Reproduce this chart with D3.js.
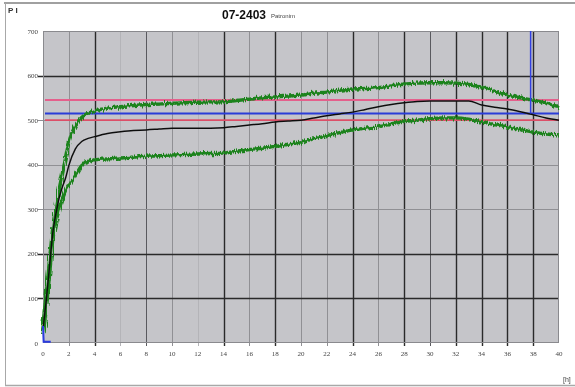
<!DOCTYPE html>
<html><head><meta charset="utf-8">
<script src="https://cdn.jsdelivr.net/npm/d3@7"></script>
<style>body{margin:0;background:#fff}svg{display:block}</style>
</head><body><svg id="c" width="575" height="387"></svg>
<script>
// Time axis (hours) and the three temperature traces
const hours = [0,0.25,0.5,0.75,1,1.25,1.5,1.75,2,2.5,3,3.5,4,5,6,7,8,9,10,11,12,13,14,15,16,17,18,19,20,21,22,23,24,25,26,27,28,29,30,31,32,33,34,35,36,37,38,39,40];
const upper = [40,110,185,255,305,345,380,415,450,488,506,516,521,527,530,533,535,536,538,539,540,541,541,544,547,550,552,554,556,560,563,567,570,571,573,577,581,583,584,584,583,580,574,565,556,550,545,538,530];
const mean  = [30,95,170,245,290,325,350,370,398,435,452,459,463,470,474,477,478,480,482,482,482,482,483,486,489,492,496,498,500,505,510,514,518,524,530,535,539,542,543,543,543,543,534,529,525,519,512,505,500];
const lower = [20,75,150,230,270,300,322,340,352,375,398,407,411,413,415,417,419,420,422,423,424,425,426,430,434,437,441,446,451,458,465,472,478,482,485,491,497,500,503,505,505,502,496,490,485,479,473,469,467];

// Start-up marker trace
const startHours = [0,0.05,0.6];
const startValues = [38,3,3];

// Reference levels and the end marker
const limitHigh = 545, target = 515, limitLow = 500;
const endMarkerHour = 37.8, endMarkerFrom = 700, endMarkerTo = 515;

const xTicks = d3.range(0, 41, 2);
const yTicks = [0,100,200,300,400,500,600,700];
const darkX = new Set([4,14,18,24,28,32,34,36,38]);
const midX = new Set([8,30]);
const faintX = new Set([6,12]);
const darkY = new Set([100,200,600]);

const svg = d3.select('#c');
const L = 43, R = 559, T = 31, B = 343;
const x = d3.scaleLinear().domain([0, 40]).range([L, R]);
const y = d3.scaleLinear().domain([0, 700]).range([B, T]);

const defs = svg.append('defs');
// slight softening of the whole drawing
defs.append('filter').attr('id','soft').append('feGaussianBlur').attr('stdDeviation',0.35);
// ragged look for the envelope traces
const f = defs.append('filter').attr('id','fz').attr('x','-5%').attr('y','-10%').attr('width','110%').attr('height','120%');
f.append('feTurbulence').attr('type','fractalNoise').attr('baseFrequency','0.9 0.06').attr('numOctaves',2).attr('seed',7).attr('result','n');
f.append('feDisplacementMap').attr('in','SourceGraphic').attr('in2','n').attr('scale',6).attr('xChannelSelector','R').attr('yChannelSelector','G');

const root = svg.append('g').attr('filter','url(#soft)');

// outer frame
root.append('line').attr('x1',4).attr('x2',575).attr('y1',3).attr('y2',3).attr('stroke','#a0a0a0').attr('stroke-width',2);
root.append('line').attr('x1',5.5).attr('x2',5.5).attr('y1',3).attr('y2',385).attr('stroke','#a8a8a8');
root.append('line').attr('x1',5).attr('x2',575).attr('y1',385.5).attr('y2',385.5).attr('stroke','#a8a8a8').attr('stroke-width',1.5);

// header
root.append('text').attr('x',8).attr('y',13).attr('font-family','Liberation Sans, Arial').attr('font-size',8).attr('font-weight','bold').attr('fill','#333').text('P I');
root.append('text').attr('x',222).attr('y',19).attr('font-family','Liberation Sans Narrow, Liberation Sans, Arial').attr('font-size',12).attr('font-weight','bold').attr('fill','#111').text('07-2403');
root.append('text').attr('x',271).attr('y',18).attr('font-family','Liberation Sans, Arial').attr('font-size',6).attr('fill','#444').text('Patronim');
root.append('text').attr('x',563).attr('y',382).attr('font-family','Liberation Sans, Arial').attr('font-size',7).attr('fill','#444').text('[h]');

// plot background
root.append('rect').attr('x',L).attr('y',T).attr('width',R-L).attr('height',B-T).attr('fill','#c5c5c9');

// grid
const grid = root.append('g');
grid.selectAll('line.vx').data(xTicks.filter(d => d > 0 && d < 40)).join('line')
  .attr('x1', d => Math.round(x(d)) + 0.5).attr('x2', d => Math.round(x(d)) + 0.5)
  .attr('y1', T).attr('y2', B + 3)
  .attr('stroke', d => darkX.has(d) ? '#2a2a2a' : midX.has(d) ? '#5a5a5e' : faintX.has(d) ? '#b4b4b8' : '#909094')
  .attr('stroke-width', d => darkX.has(d) ? 1.4 : 1);
grid.selectAll('line.hy').data(yTicks.filter(d => d > 0 && d < 700)).join('line')
  .attr('x1', L - 5).attr('x2', R)
  .attr('y1', d => Math.round(y(d)) + 0.5).attr('y2', d => Math.round(y(d)) + 0.5)
  .attr('stroke', d => darkY.has(d) ? '#2a2a2a' : '#909094')
  .attr('stroke-width', d => darkY.has(d) ? 1.4 : 1);
root.append('rect').attr('x',L+0.5).attr('y',T+0.5).attr('width',R-L-1).attr('height',B-T-1).attr('fill','none').attr('stroke','#8a8a8e');

// axis labels
root.append('g').selectAll('text').data(yTicks).join('text')
  .attr('x', 38).attr('y', d => y(d) + 2.5).attr('text-anchor','end')
  .attr('font-family','Liberation Serif, serif').attr('font-size',7).attr('fill','#444')
  .text(d => d);
root.append('g').selectAll('text').data(xTicks).join('text')
  .attr('x', d => x(d)).attr('y', 356).attr('text-anchor','middle')
  .attr('font-family','Liberation Serif, serif').attr('font-size',7).attr('fill','#444')
  .text(d => d);

// reference levels
const hline = (v, color, w) => root.append('line').attr('x1', L + 2).attr('x2', R)
  .attr('y1', y(v)).attr('y2', y(v)).attr('stroke', color).attr('stroke-width', w);
hline(limitHigh, '#e4608c', 2);
hline(limitLow, '#dc5068', 1.6);
hline(target, '#2c3cd8', 2);

const line = d3.line().x(d => x(d[0])).y(d => y(d[1])).curve(d3.curveMonotoneX);
const pts = vals => hours.map((h, i) => [h, vals[i]]);

const env = root.append('g').attr('filter','url(#fz)');
env.append('path').datum(pts(lower)).attr('d', line).attr('fill','none').attr('stroke','#1c831c').attr('stroke-width',3.4);
env.append('path').datum(pts(upper)).attr('d', line).attr('fill','none').attr('stroke','#1c831c').attr('stroke-width',3.4);
root.append('path').datum(pts(mean)).attr('d', line).attr('fill','none').attr('stroke','#111').attr('stroke-width',1.5);

// start-up marker and end marker
root.append('path').datum(startHours.map((h, i) => [h, startValues[i]]))
  .attr('d', d3.line().x(d => x(d[0])).y(d => y(d[1])))
  .attr('fill','none').attr('stroke','#2a3ae0').attr('stroke-width',2);
root.append('line').attr('x1', x(endMarkerHour)).attr('x2', x(endMarkerHour))
  .attr('y1', y(endMarkerFrom)).attr('y2', y(endMarkerTo)).attr('stroke','#3040e0').attr('stroke-width',1.5);
</script>
</body></html>
